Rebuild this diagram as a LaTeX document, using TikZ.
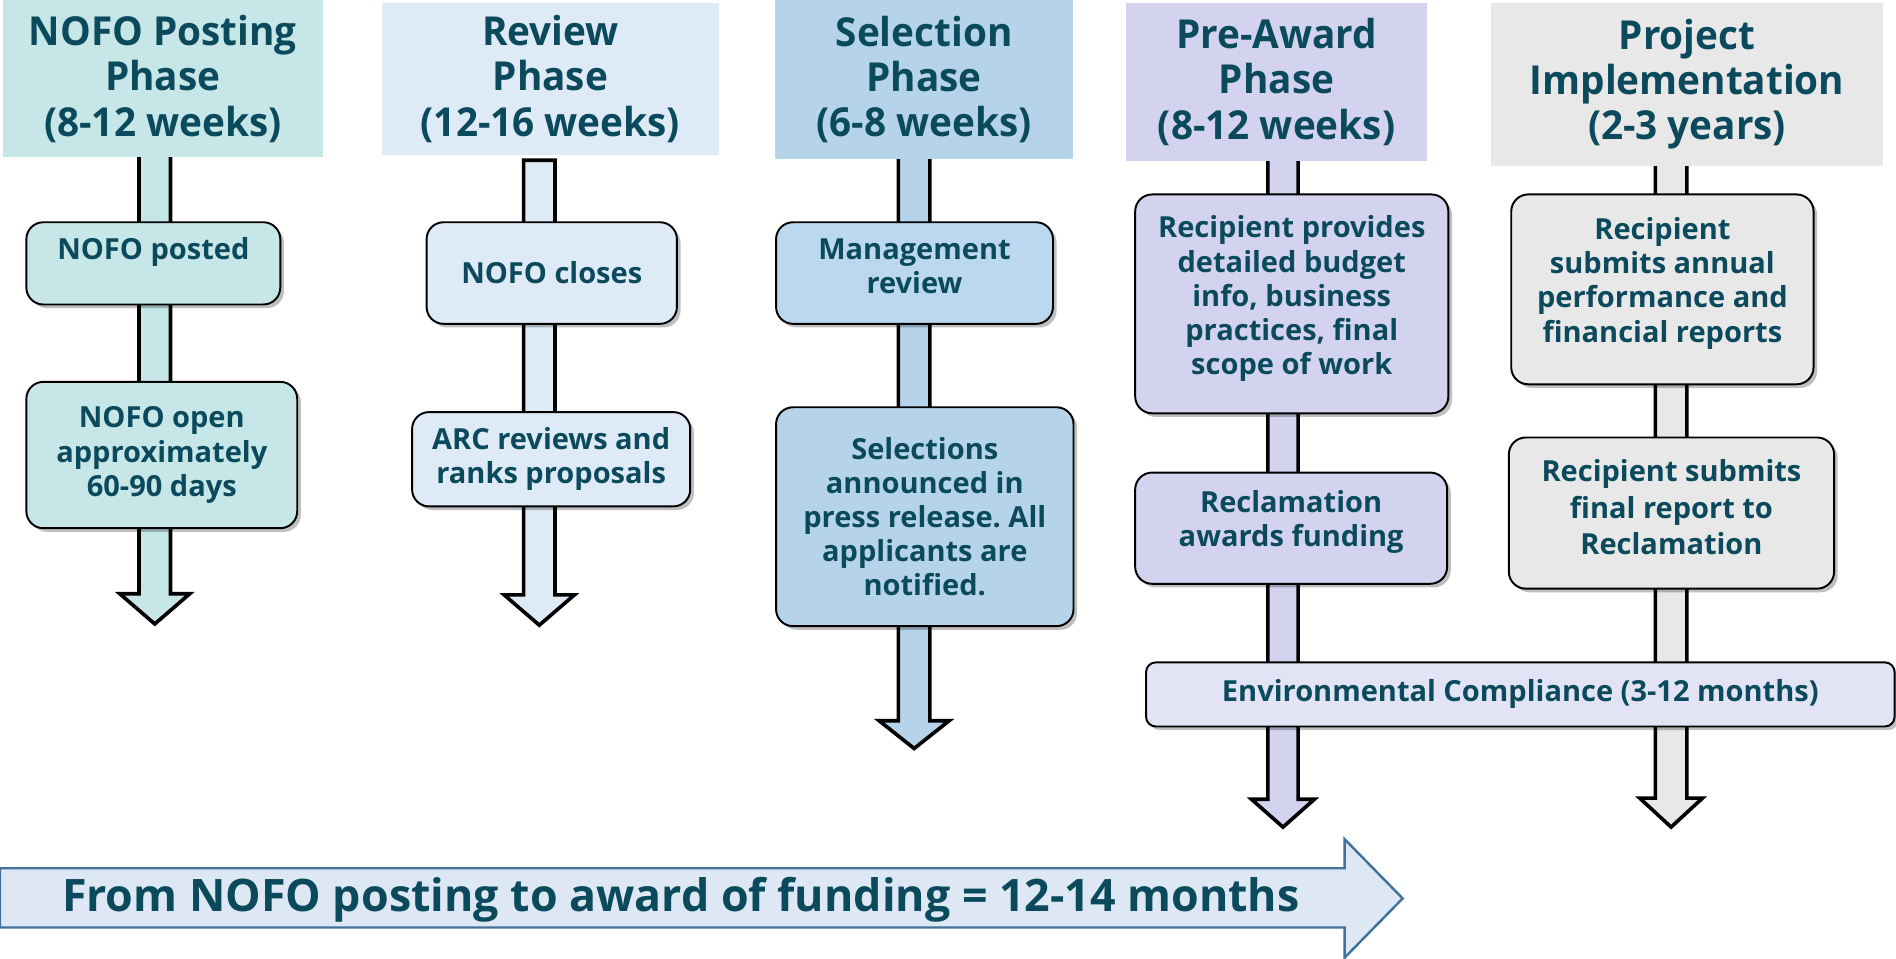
\documentclass[tikz,border=0pt]{standalone}
\usepackage{fontspec}
\setmainfont{Open Sans}
\newfontfamily\hdrfont{Open Sans}[FakeStretch=0.97]
\usetikzlibrary{shadows}
\frenchspacing
\definecolor{txt}{HTML}{0B4A5C}
\definecolor{c1}{HTML}{C6E6E8}
\definecolor{c2}{HTML}{DEEAF6}
\definecolor{c3}{HTML}{B5D4EA}
\definecolor{c3b}{HTML}{BCD8EE}
\definecolor{c4}{HTML}{D3D3F0}
\definecolor{c5}{HTML}{E8E8E8}
\definecolor{cenv}{HTML}{E3E3F6}
\definecolor{cbot}{HTML}{DDE8F4}
\definecolor{cbotl}{HTML}{41719C}
\newcommand\blockarrow[7]{% cx, ytop, yhead, ytip, shaft half, head half, colour
  \draw[shaft, fill=#7] (#1-#5,#2) -- (#1-#5,#3) -- (#1-#6,#3) -- (#1,#4)
     -- (#1+#6,#3) -- (#1+#5,#3) -- (#1+#5,#2) -- cycle;}
\begin{document}
\begin{tikzpicture}[x=1pt,y=-1pt,
  hdr/.style={inner sep=0, anchor=north west, align=center, text=txt,
    font=\hdrfont\fontsize{33}{37.5}\selectfont\bfseries},
  stepbox/.style={draw=black, line width=1.6pt, rounded corners=14pt, inner sep=0,
    anchor=north west, align=center, text=txt,
    font=\fontsize{24}{28.3}\selectfont\bfseries,
    drop shadow={shadow xshift=3pt, shadow yshift=-3pt, opacity=0.25, fill=black}},
  shaft/.style={draw=black, line width=3pt, line join=miter},
]
\useasboundingbox (0,0) rectangle (1568,793);

% vertical block arrows
\blockarrow{128}{120}{491}{516}{13}{29}{c1}
\blockarrow{446}{132.5}{492}{517}{13}{29}{c2}
\blockarrow{756}{120}{596}{619}{13}{29}{c3}
\blockarrow{1061}{125}{661}{684}{12.5}{26}{c4}
\blockarrow{1382}{125}{660}{684}{13}{26}{c5}

% headers
\node[hdr, fill=c1, minimum width=265, minimum height=130] (h1) at (2,0)
  {NOFO Posting\\Phase\\(8-12 weeks)};
\node[hdr, fill=c2, minimum width=278, minimum height=126] (h2) at (316,2)
  {Review\\Phase\\(12-16 weeks)};
\node[hdr, fill=c3, minimum width=246, minimum height=131] (h3) at (641,0)
  {Selection\\Phase\\(6-8 weeks)};
\node[hdr, fill=c4, minimum width=249, minimum height=131] (h4) at (931,2)
  {Pre-Award\\Phase\\(8-12 weeks)};
\node[hdr, fill=c5, minimum width=324, minimum height=135] (h5) at (1233,2)
  {Project\\Implementation\\(2-3 years)};

% step boxes
\node[stepbox, fill=c1, minimum width=210, minimum height=68, text depth=24pt] (b11) at (21,183)
  {NOFO posted};
\node[stepbox, fill=c1, minimum width=224, minimum height=121] (b12) at (21,315)
  {NOFO open\\approximately\\60-90 days};
\node[stepbox, fill=c2, minimum width=207, minimum height=84] (b21) at (352,183)
  {NOFO closes};
\node[stepbox, fill=c2, minimum width=230, minimum height=78] (b22) at (340,340)
  {ARC reviews and\\ranks proposals};
\node[stepbox, fill=c3b, minimum width=229, minimum height=84, text depth=12pt] (b31) at (641,183)
  {Management\\review};
\node[stepbox, fill=c3, minimum width=246, minimum height=181] (b32) at (641,336)
  {Selections\\announced in\\press release. All\\applicants are\\notified.};
\node[stepbox, fill=c4, minimum width=259, minimum height=181, text depth=14pt] (b41) at (938,160)
  {Recipient provides\\detailed budget\\info, business\\practices, final\\scope of work};
\node[stepbox, fill=c4, minimum width=258, minimum height=92, text depth=16pt] (b42) at (938,390)
  {Reclamation\\awards funding};
\node[stepbox, fill=c5, minimum width=250, minimum height=157, text depth=16pt] (b51) at (1249,160)
  {Recipient\\submits annual\\performance and\\financial reports};
\node[stepbox, fill=c5, minimum width=269, minimum height=125, text depth=10pt,
  font=\fontsize{24}{30}\selectfont\bfseries] (b52) at (1247,361)
  {Recipient submits\\final report to\\Reclamation};
\node[stepbox, fill=cenv, rounded corners=8pt, minimum width=619, minimum height=53] (env) at (947,547)
  {Environmental Compliance (3-12 months)};

% bottom timeline arrow
\coordinate (tl) at (0,718);
\coordinate (tip) at (1160,743);
\draw[draw=cbotl, line width=2pt, fill=cbot, line join=miter]
  (tl) -- (1112,718) -- (1112,694) -- (tip) -- (1112,792) -- (1112,767) -- (0,767) -- cycle;
\node[text=txt, font=\fontsize{37}{40}\selectfont\bfseries, inner sep=0] (tline) at (563,744)
  {From NOFO posting to award of funding = 12-14 months};
\end{tikzpicture}
\end{document}
